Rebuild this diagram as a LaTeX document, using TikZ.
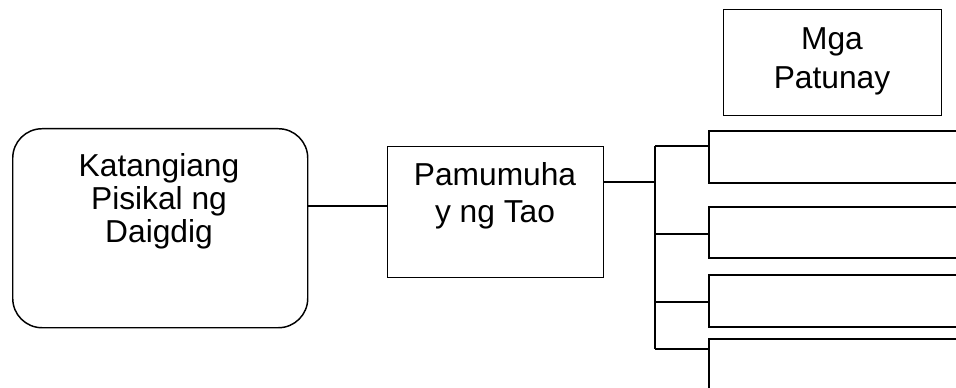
\documentclass[tikz,border=0pt]{standalone}
\usepackage{fontspec}
\setmainfont{Liberation Sans}
\begin{document}
\begin{tikzpicture}[x=0.75pt,y=-0.75pt,
  box/.style={draw=black,line width=1.1pt,inner sep=0pt,anchor=north west},
  rbox/.style={draw=black,line width=1.6pt,inner sep=0pt,anchor=north west},
  conn/.style={draw=black,line width=1.1pt},
  lbl/.style={inner sep=0pt,anchor=base,align=center,font=\fontsize{23.8}{24.75}\selectfont}]
\useasboundingbox (0,0) rectangle (956,388);
\clip (0,0) rectangle (956,388);
% boxes
\node[box,rounded corners=22pt,minimum width=295*0.75pt,minimum height=199*0.75pt] (L) at (12,128) {};
\node[box,minimum width=216*0.75pt,minimum height=131*0.75pt] (M) at (387,146) {};
\node[box,minimum width=218*0.75pt,minimum height=106*0.75pt] (P) at (723,9) {};
\node[rbox,minimum width=300*0.75pt,minimum height=52*0.75pt] (B1) at (708,130) {};
\node[rbox,minimum width=300*0.75pt,minimum height=51*0.75pt] (B2) at (708,206) {};
\node[rbox,minimum width=300*0.75pt,minimum height=52*0.75pt] (B3) at (708,274) {};
\node[rbox,minimum width=300*0.75pt,minimum height=80*0.75pt] (B4) at (708,338) {};
% texts
\node[lbl] (tL1) at (159,177) {Katangiang};
\node[lbl] (tL2) at (159,210) {Pisikal ng};
\node[lbl] (tL3) at (159,243) {Daigdig};
\node[lbl] (tM1) at (495,186) {Pamumuha};
\node[lbl] (tM2) at (495,223) {y ng Tao};
\node[lbl] (tP1) at (832,50) {Mga};
\node[lbl] (tP2) at (832,89) {Patunay};
% connectors
\coordinate (j1) at (0,206);
\coordinate (j2) at (0,182);
\coordinate (bt) at (655,146);
\coordinate (bb) at (655,349);
\coordinate (b2) at (655,234);
\coordinate (b3) at (655,302);
\draw[conn] (L.east |- j1) -- (M.west |- j1);
\draw[conn] (M.east |- j2) -- (bt |- j2);
\draw[conn] (bt) -- (bb);
\draw[conn] (bt) -- (B1.west |- bt);
\draw[conn] (b2) -- (B2.west |- b2);
\draw[conn] (b3) -- (B3.west |- b3);
\draw[conn] (bb) -- (B4.west |- bb);
\end{tikzpicture}
\end{document}
